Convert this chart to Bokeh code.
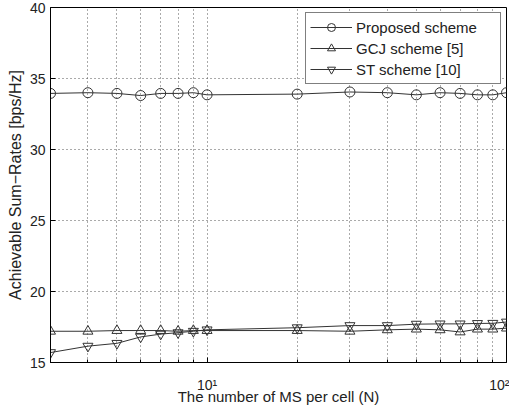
from bokeh.plotting import figure
from bokeh.models import Range1d, FixedTicker, Legend, LegendItem
from bokeh.embed import file_html
from bokeh.resources import INLINE

# data
n_ms = [3, 4, 5, 6, 7, 8, 9, 10, 20, 30, 40, 50, 60, 70, 80, 90, 100]
proposed = [33.95, 34.0, 33.95, 33.8, 33.95, 33.95, 34.0, 33.85, 33.9, 34.05,
            34.0, 33.85, 34.0, 33.95, 33.85, 33.85, 34.0]
gcj = [17.2, 17.2, 17.25, 17.25, 17.25, 17.2, 17.25, 17.25, 17.25, 17.2,
       17.3, 17.35, 17.3, 17.15, 17.35, 17.35, 17.42]
st = [15.7, 16.15, 16.35, 16.8, 17.0, 17.1, 17.2, 17.3, 17.45, 17.6,
      17.6, 17.7, 17.72, 17.72, 17.75, 17.76, 17.85]
series_names = ["Proposed scheme", "GCJ scheme [5]", "ST scheme [10]"]
y_ticks = [15, 20, 25, 30, 35, 40]
x_major = [10, 100]
x_major_labels = {10: "10\u00b9", 100: "10\u00b2"}
x_minor = [3, 4, 5, 6, 7, 8, 9, 20, 30, 40, 50, 60, 70, 80, 90]
x_grid = [4, 5, 6, 7, 8, 9, 10, 20, 30, 40, 50, 60, 70, 80, 90]
x_label = "The number of MS per cell (N)"
y_label = "Achievable Sum\u2212Rates [bps/Hz]"

FONT = "Liberation Sans"
LINE = "#333333"

p = figure(width=509, height=407, x_axis_type="log",
           x_range=Range1d(3, 100), y_range=Range1d(15, 40),
           output_backend="svg", toolbar_location=None,
           min_border_left=50, min_border_right=3,
           min_border_top=7, min_border_bottom=41)

p.outline_line_color = "black"
p.outline_line_width = 1
p.background_fill_color = "white"
p.border_fill_color = "white"

# axes
p.xaxis.ticker = FixedTicker(ticks=x_major, minor_ticks=x_minor)
p.xaxis.major_label_overrides = x_major_labels
p.yaxis.ticker = FixedTicker(ticks=y_ticks)
for ax in (p.xaxis[0], p.yaxis[0]):
    ax.major_tick_in = 5
    ax.major_tick_out = 0
    ax.minor_tick_in = 3
    ax.minor_tick_out = 0
    ax.major_label_text_font = FONT
    ax.major_label_text_font_size = "14px"
    ax.major_label_text_color = "#222222"
    ax.axis_label_text_font = FONT
    ax.axis_label_text_font_style = "normal"
    ax.axis_label_text_color = "#222222"
    ax.axis_line_color = "black"
    ax.major_tick_line_color = "black"
    ax.minor_tick_line_color = "black"
p.yaxis.minor_tick_line_color = None
p.xaxis.axis_label = x_label
p.yaxis.axis_label = y_label
p.xaxis.axis_label_text_font_size = "15px"
p.yaxis.axis_label_text_font_size = "16px"
p.xaxis.major_label_standoff = 14
p.xaxis.axis_label_standoff = -8
p.yaxis.major_label_standoff = 5
p.yaxis.axis_label_standoff = 3

# grid
p.xgrid.ticker = FixedTicker(ticks=x_grid)
p.ygrid.ticker = FixedTicker(ticks=y_ticks)
for g in (p.xgrid[0], p.ygrid[0]):
    g.grid_line_color = "#555555"
    g.grid_line_dash = "1 3"
    g.grid_line_width = 1

# series
markers = ["circle", "triangle", "inverted_triangle"]
items = []
for name, ys, mk in zip(series_names, [proposed, gcj, st], markers):
    l = p.line(n_ms, ys, line_color=LINE, line_width=1)
    s = p.scatter(n_ms, ys, marker=mk, size=10, line_color=LINE,
                  fill_alpha=0, line_width=1)
    items.append(LegendItem(label=name, renderers=[l, s]))

legend = Legend(items=items, location=(255, 278), margin=0, padding=4,
                spacing=1, glyph_width=42, glyph_height=20, label_height=20,
                label_standoff=4, label_width=140,
                label_text_font=FONT, label_text_font_size="15px",
                label_text_color="#222222",
                border_line_color="black", border_line_width=1,
                background_fill_color="white", background_fill_alpha=1)
p.add_layout(legend)

open("out.html", "w").write(file_html(p, INLINE))
